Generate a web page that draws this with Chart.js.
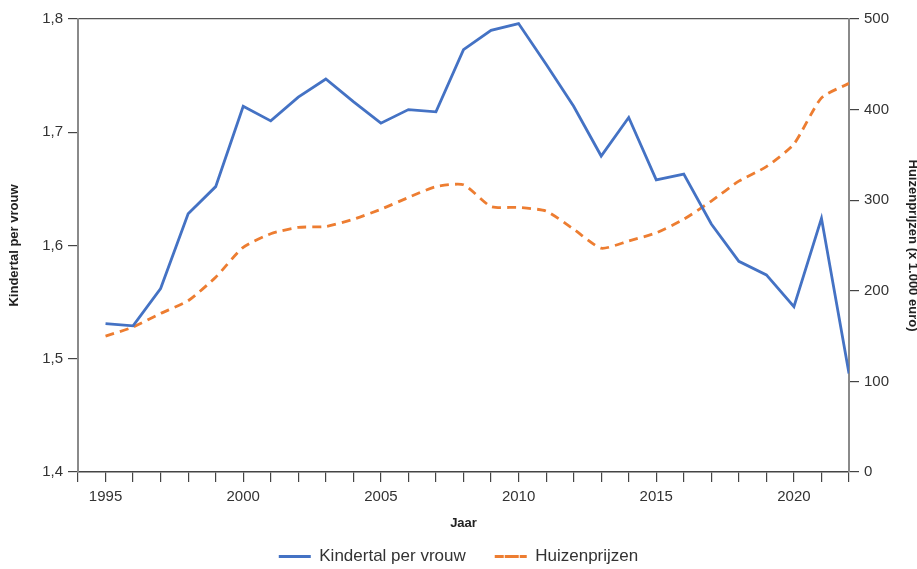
<!DOCTYPE html>
<html>
<head>
<meta charset="utf-8">
<script src="https://cdn.jsdelivr.net/npm/chart.js@4/dist/chart.umd.min.js"></script>
<style>
  html, body { margin: 0; padding: 0; background: #fff; }
  #wrap { width: 917px; height: 569px; }
</style>
</head>
<body>
<div id="wrap"><canvas id="myChart"></canvas></div>
<script>
// -------------------- Data -------------------- //

var years = [1995, 1996, 1997, 1998, 1999, 2000, 2001, 2002, 2003, 2004,
  2005, 2006, 2007, 2008, 2009, 2010, 2011, 2012, 2013, 2014,
  2015, 2016, 2017, 2018, 2019, 2020, 2021, 2022];

var kindertal = [1.531, 1.529, 1.562, 1.628, 1.652, 1.723, 1.710, 1.731, 1.747, 1.727,
  1.708, 1.720, 1.718, 1.773, 1.790, 1.796, 1.760, 1.723, 1.679, 1.713,
  1.658, 1.663, 1.619, 1.586, 1.574, 1.546, 1.624, 1.487];

var huizenprijzen = [150, 160, 175, 189, 215, 248, 263, 270, 271, 279,
  290, 303, 315, 317, 293, 292, 288, 268, 247, 255,
  264, 279, 299, 321, 337, 362, 413, 429];

var leftTicks = [1.4, 1.5, 1.6, 1.7, 1.8];
var rightTicks = [0, 100, 200, 300, 400, 500];
var xLabelYears = [1995, 2000, 2005, 2010, 2015, 2020];

var blue = '#4472C4';
var orange = '#ED7D31';
var textColor = '#333333';
var fontFam = "'Liberation Sans', Arial, sans-serif";

function toPoints(vals) {   // pair the years with the values
  var pts = [];
  for (var i = 0; i < years.length; i++) {
    pts.push({ x: years[i], y: vals[i] });
  }
  return pts;
}

// -------------------- Chart -------------------- //

var ctx = document.getElementById('myChart').getContext('2d');
var chart = new Chart(ctx, {
  type: 'line',
  data: {
    datasets: [
      {
        label: 'Kindertal per vrouw',
        data: toPoints(kindertal),
        yAxisID: 'yLeft',
        borderColor: blue,
        backgroundColor: blue,
        borderWidth: 2.8,
        pointRadius: 0,
        tension: 0
      },
      {
        label: 'Huizenprijzen',
        data: toPoints(huizenprijzen),
        yAxisID: 'yRight',
        borderColor: orange,
        backgroundColor: orange,
        borderWidth: 2.8,
        borderDash: [9, 6],
        pointRadius: 0,
        tension: 0.2
      }
    ]
  },
  options: {
    responsive: true,
    maintainAspectRatio: false,
    animation: false,
    layout: { padding: { top: 19, left: 0, right: 0, bottom: -6 } },
    plugins: {
      tooltip: { enabled: false },
      legend: {
        position: 'bottom',
        labels: {
          boxWidth: 32,
          boxHeight: 0,
          padding: 29,
          color: textColor,
          font: { family: fontFam, size: 17 }
        }
      }
    },
    scales: {
      x: {
        type: 'linear',
        min: 1994,
        max: 2022,
        afterBuildTicks: function (axis) {
          var t = [];
          for (var y = 1994; y <= 2022; y++) t.push({ value: y });
          axis.ticks = t;
        },
        afterFit: function (axis) { axis.height = 47; },
        ticks: {
          autoSkip: false,
          maxRotation: 0,
          padding: 6,
          color: textColor,
          font: { family: fontFam, size: 15 },
          callback: function (v) { return xLabelYears.indexOf(v) >= 0 ? String(v) : ''; }
        },
        grid: { drawOnChartArea: false, tickLength: 10, color: '#444', lineWidth: 1.2 },
        border: { color: '#444', width: 1.5 },
        title: {
          display: true,
          text: 'Jaar',
          color: '#222',
          font: { family: fontFam, size: 13, weight: 'bold' },
          padding: { top: 0, bottom: -12 }
        }
      },
      yLeft: {
        position: 'left',
        min: 1.4,
        max: 1.8,
        afterBuildTicks: function (axis) {
          axis.ticks = leftTicks.map(function (v) { return { value: v }; });
        },
        afterFit: function (axis) { axis.width = 78; },
        ticks: {
          padding: 5,
          color: textColor,
          font: { family: fontFam, size: 15 },
          callback: function (v) { return v.toFixed(1).replace('.', ','); }
        },
        grid: {
          tickLength: 10,
          lineWidth: 1.2,
          color: function (c) { return (c.tick && c.tick.value === 1.8) ? '#555' : 'rgba(0,0,0,0)'; },
          tickColor: '#444'
        },
        border: { color: '#8a8a8a', width: 2 },
        title: {
          display: true,
          text: 'Kindertal per vrouw',
          color: '#222',
          font: { family: fontFam, size: 13, weight: 'bold' },
          padding: { top: 7, bottom: 0 }
        }
      },
      yRight: {
        position: 'right',
        min: 0,
        max: 500,
        afterBuildTicks: function (axis) {
          axis.ticks = rightTicks.map(function (v) { return { value: v }; });
        },
        afterFit: function (axis) { axis.width = 68; },
        ticks: {
          padding: 5,
          color: textColor,
          font: { family: fontFam, size: 15 }
        },
        grid: { drawOnChartArea: false, tickLength: 10, lineWidth: 1.2, color: '#444' },
        border: { color: '#8a8a8a', width: 2 },
        title: {
          display: true,
          text: 'Huizenprijzen (x 1.000 euro)',
          color: '#222',
          font: { family: fontFam, size: 13, weight: 'bold' },
          padding: { top: -3, bottom: 0 }
        }
      }
    }
  }
});
</script>
</body>
</html>
